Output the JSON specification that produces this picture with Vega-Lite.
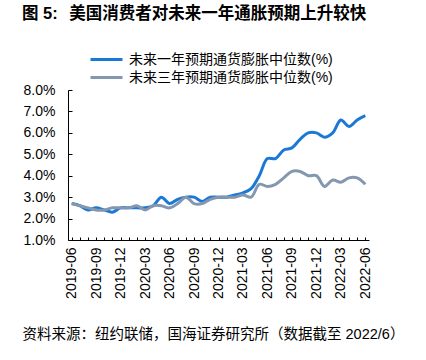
{
  "$schema": "https://vega.github.io/schema/vega-lite/v6.json",
  "autosize": "none",
  "width": 301,
  "height": 150,
  "padding": {"left": 68, "top": 90, "right": 57, "bottom": 120},
  "background": "white",
  "title": {
    "text": "图 5:\u2002\u2009美国消费者对未来一年通胀预期上升较快",
    "anchor": "start",
    "frame": "group",
    "dx": -46,
    "dy": -20,
    "font": "Liberation Sans, Noto Sans CJK SC",
    "fontSize": 16.5,
    "fontWeight": "bold",
    "color": "#000000",
    "offset": 8
  },
  "config": {
    "view": {"stroke": null},
    "font": "Liberation Sans, Noto Sans CJK SC",
    "title": {"fontSize": 16.5, "fontWeight": "bold", "color": "#000000"}
  },
  "data": {
    "values": [
      {"month": "2019-06", "series": "未来一年预期通货膨胀中位数(%)", "value": 2.7},
      {"month": "2019-07", "series": "未来一年预期通货膨胀中位数(%)", "value": 2.6},
      {"month": "2019-08", "series": "未来一年预期通货膨胀中位数(%)", "value": 2.4},
      {"month": "2019-09", "series": "未来一年预期通货膨胀中位数(%)", "value": 2.5},
      {"month": "2019-10", "series": "未来一年预期通货膨胀中位数(%)", "value": 2.4},
      {"month": "2019-11", "series": "未来一年预期通货膨胀中位数(%)", "value": 2.3},
      {"month": "2019-12", "series": "未来一年预期通货膨胀中位数(%)", "value": 2.5},
      {"month": "2020-01", "series": "未来一年预期通货膨胀中位数(%)", "value": 2.5},
      {"month": "2020-02", "series": "未来一年预期通货膨胀中位数(%)", "value": 2.5},
      {"month": "2020-03", "series": "未来一年预期通货膨胀中位数(%)", "value": 2.5},
      {"month": "2020-04", "series": "未来一年预期通货膨胀中位数(%)", "value": 2.6},
      {"month": "2020-05", "series": "未来一年预期通货膨胀中位数(%)", "value": 3.0},
      {"month": "2020-06", "series": "未来一年预期通货膨胀中位数(%)", "value": 2.7},
      {"month": "2020-07", "series": "未来一年预期通货膨胀中位数(%)", "value": 2.9},
      {"month": "2020-08", "series": "未来一年预期通货膨胀中位数(%)", "value": 3.0},
      {"month": "2020-09", "series": "未来一年预期通货膨胀中位数(%)", "value": 3.0},
      {"month": "2020-10", "series": "未来一年预期通货膨胀中位数(%)", "value": 2.8},
      {"month": "2020-11", "series": "未来一年预期通货膨胀中位数(%)", "value": 3.0},
      {"month": "2020-12", "series": "未来一年预期通货膨胀中位数(%)", "value": 3.0},
      {"month": "2021-01", "series": "未来一年预期通货膨胀中位数(%)", "value": 3.0},
      {"month": "2021-02", "series": "未来一年预期通货膨胀中位数(%)", "value": 3.1},
      {"month": "2021-03", "series": "未来一年预期通货膨胀中位数(%)", "value": 3.2},
      {"month": "2021-04", "series": "未来一年预期通货膨胀中位数(%)", "value": 3.4},
      {"month": "2021-05", "series": "未来一年预期通货膨胀中位数(%)", "value": 4.0},
      {"month": "2021-06", "series": "未来一年预期通货膨胀中位数(%)", "value": 4.8},
      {"month": "2021-07", "series": "未来一年预期通货膨胀中位数(%)", "value": 4.8},
      {"month": "2021-08", "series": "未来一年预期通货膨胀中位数(%)", "value": 5.2},
      {"month": "2021-09", "series": "未来一年预期通货膨胀中位数(%)", "value": 5.3},
      {"month": "2021-10", "series": "未来一年预期通货膨胀中位数(%)", "value": 5.7},
      {"month": "2021-11", "series": "未来一年预期通货膨胀中位数(%)", "value": 6.0},
      {"month": "2021-12", "series": "未来一年预期通货膨胀中位数(%)", "value": 6.0},
      {"month": "2022-01", "series": "未来一年预期通货膨胀中位数(%)", "value": 5.8},
      {"month": "2022-02", "series": "未来一年预期通货膨胀中位数(%)", "value": 6.0},
      {"month": "2022-03", "series": "未来一年预期通货膨胀中位数(%)", "value": 6.6},
      {"month": "2022-04", "series": "未来一年预期通货膨胀中位数(%)", "value": 6.3},
      {"month": "2022-05", "series": "未来一年预期通货膨胀中位数(%)", "value": 6.6},
      {"month": "2022-06", "series": "未来一年预期通货膨胀中位数(%)", "value": 6.8},
      {"month": "2019-06", "series": "未来三年预期通货膨胀中位数(%)", "value": 2.7},
      {"month": "2019-07", "series": "未来三年预期通货膨胀中位数(%)", "value": 2.6},
      {"month": "2019-08", "series": "未来三年预期通货膨胀中位数(%)", "value": 2.5},
      {"month": "2019-09", "series": "未来三年预期通货膨胀中位数(%)", "value": 2.4},
      {"month": "2019-10", "series": "未来三年预期通货膨胀中位数(%)", "value": 2.4},
      {"month": "2019-11", "series": "未来三年预期通货膨胀中位数(%)", "value": 2.5},
      {"month": "2019-12", "series": "未来三年预期通货膨胀中位数(%)", "value": 2.5},
      {"month": "2020-01", "series": "未来三年预期通货膨胀中位数(%)", "value": 2.5},
      {"month": "2020-02", "series": "未来三年预期通货膨胀中位数(%)", "value": 2.6},
      {"month": "2020-03", "series": "未来三年预期通货膨胀中位数(%)", "value": 2.4},
      {"month": "2020-04", "series": "未来三年预期通货膨胀中位数(%)", "value": 2.6},
      {"month": "2020-05", "series": "未来三年预期通货膨胀中位数(%)", "value": 2.6},
      {"month": "2020-06", "series": "未来三年预期通货膨胀中位数(%)", "value": 2.5},
      {"month": "2020-07", "series": "未来三年预期通货膨胀中位数(%)", "value": 2.7},
      {"month": "2020-08", "series": "未来三年预期通货膨胀中位数(%)", "value": 3.0},
      {"month": "2020-09", "series": "未来三年预期通货膨胀中位数(%)", "value": 2.7},
      {"month": "2020-10", "series": "未来三年预期通货膨胀中位数(%)", "value": 2.7},
      {"month": "2020-11", "series": "未来三年预期通货膨胀中位数(%)", "value": 2.9},
      {"month": "2020-12", "series": "未来三年预期通货膨胀中位数(%)", "value": 3.0},
      {"month": "2021-01", "series": "未来三年预期通货膨胀中位数(%)", "value": 3.0},
      {"month": "2021-02", "series": "未来三年预期通货膨胀中位数(%)", "value": 3.0},
      {"month": "2021-03", "series": "未来三年预期通货膨胀中位数(%)", "value": 3.1},
      {"month": "2021-04", "series": "未来三年预期通货膨胀中位数(%)", "value": 3.0},
      {"month": "2021-05", "series": "未来三年预期通货膨胀中位数(%)", "value": 3.6},
      {"month": "2021-06", "series": "未来三年预期通货膨胀中位数(%)", "value": 3.5},
      {"month": "2021-07", "series": "未来三年预期通货膨胀中位数(%)", "value": 3.6},
      {"month": "2021-08", "series": "未来三年预期通货膨胀中位数(%)", "value": 3.9},
      {"month": "2021-09", "series": "未来三年预期通货膨胀中位数(%)", "value": 4.2},
      {"month": "2021-10", "series": "未来三年预期通货膨胀中位数(%)", "value": 4.2},
      {"month": "2021-11", "series": "未来三年预期通货膨胀中位数(%)", "value": 4.0},
      {"month": "2021-12", "series": "未来三年预期通货膨胀中位数(%)", "value": 4.0},
      {"month": "2022-01", "series": "未来三年预期通货膨胀中位数(%)", "value": 3.5},
      {"month": "2022-02", "series": "未来三年预期通货膨胀中位数(%)", "value": 3.8},
      {"month": "2022-03", "series": "未来三年预期通货膨胀中位数(%)", "value": 3.7},
      {"month": "2022-04", "series": "未来三年预期通货膨胀中位数(%)", "value": 3.9},
      {"month": "2022-05", "series": "未来三年预期通货膨胀中位数(%)", "value": 3.9},
      {"month": "2022-06", "series": "未来三年预期通货膨胀中位数(%)", "value": 3.6}
    ]
  },
  "mark": {"type": "line", "strokeWidth": 3, "interpolate": "catmull-rom"},
  "encoding": {
    "x": {
      "field": "month",
      "type": "ordinal",
      "scale": {"type": "point", "padding": 0.45},
      "axis": {
        "title": "资料来源：纽约联储，国海证券研究所（数据截至 2022/6）",
        "titleX": -46,
        "titleY": 94,
        "titleAlign": "left",
        "titleAnchor": "start",
        "titleBaseline": "middle",
        "titleFont": "Liberation Sans, Noto Sans CJK SC",
        "titleFontSize": 14.5,
        "titleFontWeight": "normal",
        "titleColor": "#000000",
        "labelAngle": -90,
        "labelExpr": "indexof(['03','06','09','12'], slice(datum.value, 5)) >= 0 ? datum.value : ''",
        "labelFont": "Liberation Sans",
        "labelFontSize": 14,
        "labelColor": "#000000",
        "labelPadding": 10,
        "labelOverlap": false,
        "tickSize": -3,
        "tickColor": "#000000",
        "domainColor": "#000000",
        "grid": false
      }
    },
    "y": {
      "field": "value",
      "type": "quantitative",
      "scale": {"domain": [1, 8], "nice": false, "zero": false},
      "axis": {
        "title": null,
        "values": [1, 2, 3, 4, 5, 6, 7, 8],
        "labelExpr": "format(datum.value, '.1f') + '%'",
        "labelFont": "Liberation Sans",
        "labelFontSize": 14,
        "labelColor": "#000000",
        "labelPadding": 17,
        "tickSize": -4,
        "tickColor": "#000000",
        "domainColor": "#000000",
        "grid": false
      }
    },
    "color": {
      "field": "series",
      "type": "nominal",
      "scale": {
        "domain": ["未来一年预期通货膨胀中位数(%)", "未来三年预期通货膨胀中位数(%)"],
        "range": ["#1c78d6", "#8497b0"]
      },
      "legend": {
        "title": null,
        "orient": "none",
        "legendX": 29,
        "legendY": -40,
        "direction": "vertical",
        "padding": 0,
        "symbolType": "M-2,0H2",
        "symbolSize": 256,
        "symbolStrokeWidth": 3,
        "labelOffset": 13,
        "labelFont": "Liberation Sans, Noto Sans CJK SC",
        "labelFontSize": 14,
        "labelColor": "#000000",
        "labelLimit": 400,
        "rowPadding": 1
      }
    }
  }
}
